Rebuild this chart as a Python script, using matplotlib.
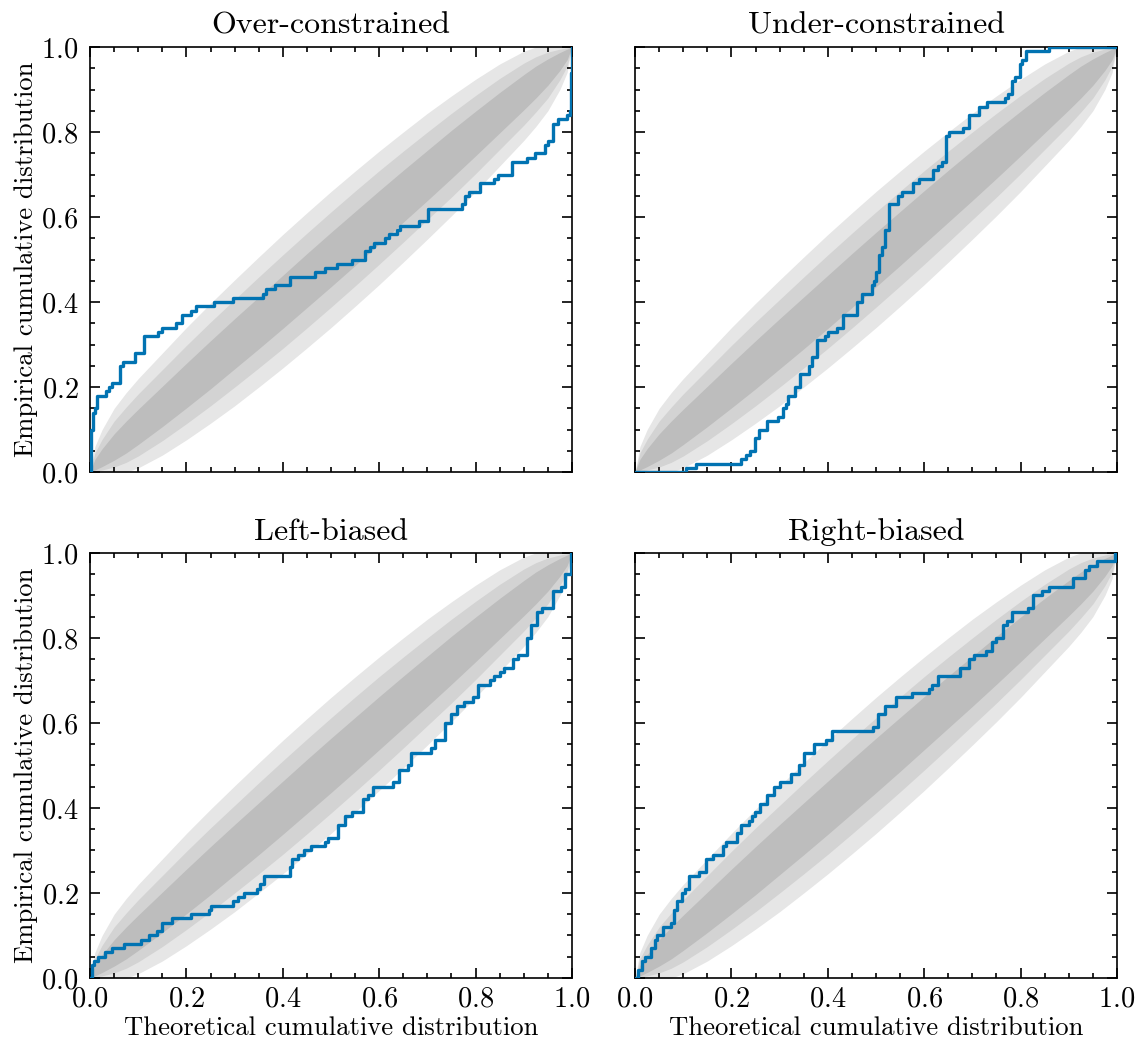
import numpy as np
import matplotlib
matplotlib.use("Agg")
import matplotlib.pyplot as plt
from matplotlib.ticker import MultipleLocator

plt.rcParams.update({
    "font.family": "serif",
    "font.serif": ["cmr10"],
    "mathtext.fontset": "cm",
    "axes.formatter.use_mathtext": True,
    "font.size": 8,
    "axes.titlesize": 9.6,
    "axes.linewidth": 0.5,
    "xtick.direction": "in",
    "ytick.direction": "in",
    "xtick.top": True,
    "ytick.right": True,
    "xtick.major.size": 3,
    "ytick.major.size": 3,
    "xtick.minor.size": 1.5,
    "ytick.minor.size": 1.5,
    "xtick.major.width": 0.5,
    "ytick.major.width": 0.5,
    "xtick.minor.width": 0.5,
    "ytick.minor.width": 0.5,
    "xtick.minor.visible": True,
    "ytick.minor.visible": True,
    "xtick.labelsize": 8.5,
    "ytick.labelsize": 8.5,
})

# envelope around the diagonal: distance of the upper edge above y = x
# (the lower edge is the mirror image through the centre point)
band_x = [0.0, 0.01, 0.025, 0.05, 0.075, 0.1, 0.15, 0.2, 0.25, 0.3, 0.35, 0.4, 0.45,
          0.5, 0.55, 0.6, 0.65, 0.7, 0.75, 0.8, 0.85, 0.9, 0.925, 0.95, 0.975, 0.99, 1.0]
band_outer = [0.0, 0.05, 0.075, 0.10, 0.112, 0.12, 0.13, 0.14, 0.147, 0.152, 0.156, 0.159, 0.16,
              0.16, 0.158, 0.155, 0.15, 0.144, 0.135, 0.124, 0.11, 0.09, 0.075, 0.05, 0.025, 0.01, 0.0]
band_mid = [0.0, 0.035, 0.052, 0.07, 0.078, 0.084, 0.091, 0.098, 0.103, 0.106, 0.109, 0.111, 0.112,
            0.112, 0.111, 0.109, 0.105, 0.1, 0.094, 0.086, 0.076, 0.062, 0.052, 0.038, 0.02, 0.008, 0.0]
band_inner = [0.0, 0.02, 0.03, 0.04, 0.045, 0.048, 0.052, 0.056, 0.059, 0.061, 0.062, 0.063, 0.064,
              0.064, 0.063, 0.062, 0.06, 0.057, 0.054, 0.049, 0.043, 0.035, 0.03, 0.022, 0.012, 0.005, 0.0]

# empirical CDFs: jump positions and level after each jump
over_x = [0.0, 0.003, 0.006, 0.010, 0.014, 0.033, 0.040, 0.045, 0.062, 0.068, 0.094, 0.112, 0.140, 0.149,
          0.178, 0.190, 0.209, 0.219, 0.258, 0.296, 0.358, 0.366, 0.384, 0.415, 0.467, 0.487, 0.513, 0.544,
          0.571, 0.581, 0.589, 0.613, 0.620, 0.638, 0.643, 0.683, 0.701, 0.771, 0.778, 0.787, 0.809, 0.839,
          0.847, 0.875, 0.906, 0.923, 0.944, 0.951, 0.961, 0.972, 0.989, 0.996, 0.998, 1.0]
over_y = [0.0, 0.10, 0.14, 0.15, 0.18, 0.19, 0.20, 0.21, 0.25, 0.26, 0.28, 0.32, 0.33, 0.34,
          0.35, 0.37, 0.38, 0.39, 0.40, 0.41, 0.42, 0.43, 0.44, 0.46, 0.47, 0.48, 0.49, 0.50,
          0.52, 0.53, 0.54, 0.55, 0.56, 0.57, 0.58, 0.59, 0.62, 0.63, 0.65, 0.66, 0.68, 0.69,
          0.70, 0.73, 0.74, 0.75, 0.77, 0.78, 0.82, 0.83, 0.84, 0.85, 0.94, 1.0]

under_x = [0.0, 0.106, 0.127, 0.219, 0.230, 0.239, 0.249, 0.258, 0.273, 0.297, 0.308, 0.313, 0.317, 0.332,
           0.342, 0.360, 0.368, 0.378, 0.394, 0.401, 0.420, 0.432, 0.461, 0.470, 0.491, 0.496, 0.501, 0.507,
           0.512, 0.519, 0.528, 0.546, 0.553, 0.577, 0.590, 0.619, 0.629, 0.636, 0.645, 0.652, 0.681, 0.692,
           0.714, 0.730, 0.768, 0.773, 0.782, 0.788, 0.799, 0.804, 0.811, 0.858, 1.0]
under_y = [0.0, 0.01, 0.02, 0.03, 0.04, 0.05, 0.08, 0.10, 0.12, 0.13, 0.15, 0.16, 0.18, 0.20,
           0.23, 0.25, 0.27, 0.31, 0.32, 0.33, 0.34, 0.37, 0.40, 0.42, 0.44, 0.45, 0.47, 0.51,
           0.53, 0.57, 0.63, 0.65, 0.66, 0.68, 0.69, 0.71, 0.72, 0.73, 0.79, 0.80, 0.81, 0.84,
           0.86, 0.87, 0.88, 0.89, 0.92, 0.93, 0.96, 0.97, 0.99, 1.0, 1.0]

left_x = [0.0, 0.0035, 0.008, 0.017, 0.031, 0.046, 0.071, 0.105, 0.123, 0.138, 0.149, 0.171, 0.210, 0.246,
          0.252, 0.297, 0.308, 0.320, 0.347, 0.353, 0.361, 0.415, 0.420, 0.432, 0.445, 0.459, 0.488, 0.494,
          0.515, 0.529, 0.544, 0.567, 0.577, 0.588, 0.629, 0.641, 0.660, 0.667, 0.707, 0.716, 0.737, 0.750,
          0.761, 0.775, 0.795, 0.806, 0.830, 0.839, 0.851, 0.859, 0.878, 0.889, 0.907, 0.916, 0.927, 0.937,
          0.961, 0.977, 0.986, 0.999, 1.0]
left_y = [0.0, 0.03, 0.04, 0.05, 0.06, 0.07, 0.08, 0.09, 0.10, 0.11, 0.13, 0.14, 0.15, 0.16,
          0.17, 0.18, 0.19, 0.20, 0.21, 0.22, 0.24, 0.26, 0.28, 0.29, 0.30, 0.31, 0.32, 0.33,
          0.36, 0.38, 0.39, 0.42, 0.43, 0.45, 0.46, 0.49, 0.50, 0.53, 0.54, 0.56, 0.60, 0.62,
          0.64, 0.65, 0.66, 0.69, 0.70, 0.71, 0.72, 0.73, 0.75, 0.76, 0.80, 0.83, 0.86, 0.87,
          0.91, 0.92, 0.95, 1.0, 1.0]

right_x = [0.0, 0.007, 0.014, 0.021, 0.0325, 0.0415, 0.046, 0.059, 0.074, 0.081, 0.088, 0.097, 0.104, 0.111,
           0.1335, 0.147, 0.161, 0.182, 0.189, 0.211, 0.219, 0.237, 0.242, 0.249, 0.259, 0.273, 0.288, 0.301,
           0.323, 0.340, 0.351, 0.371, 0.396, 0.409, 0.4945, 0.505, 0.519, 0.541, 0.574, 0.609, 0.616, 0.629,
           0.674, 0.692, 0.704, 0.728, 0.741, 0.750, 0.763, 0.771, 0.782, 0.816, 0.825, 0.844, 0.858, 0.909,
           0.934, 0.941, 0.959, 0.996, 1.0]
right_y = [0.0, 0.02, 0.04, 0.05, 0.07, 0.09, 0.10, 0.12, 0.13, 0.16, 0.18, 0.20, 0.21, 0.24,
           0.25, 0.28, 0.29, 0.31, 0.32, 0.34, 0.36, 0.37, 0.38, 0.39, 0.41, 0.43, 0.45, 0.46,
           0.48, 0.50, 0.53, 0.55, 0.56, 0.58, 0.59, 0.62, 0.64, 0.66, 0.67, 0.68, 0.69, 0.71,
           0.73, 0.75, 0.76, 0.77, 0.79, 0.80, 0.83, 0.84, 0.86, 0.87, 0.90, 0.91, 0.92, 0.94,
           0.96, 0.97, 0.98, 1.0, 1.0]

titles = ["Over-constrained", "Under-constrained", "Left-biased", "Right-biased"]
curves = [(over_x, over_y), (under_x, under_y), (left_x, left_y), (right_x, right_y)]
band_colors = ["#e6e6e6", "#d3d3d3", "#bdbdbd"]
line_color = "#0173B2"


def draw_band(ax, dev, color):
    x = np.array(band_x)
    d = np.array(dev)
    upper = np.clip(x + d, 0, 1)
    lower = np.clip(x - d[::-1], 0, 1)
    ax.fill_between(x, lower, upper, color=color, lw=0, zorder=1)


fig, axes = plt.subplots(2, 2, sharex=True, sharey=True, figsize=(1147 / 240, 1047 / 240), dpi=240)
fig.subplots_adjust(left=0.0785, right=0.9738, top=0.9551, bottom=0.0659, wspace=0.131, hspace=0.19)

for ax, title, (cx, cy) in zip(axes.flat, titles, curves):
    for dev, col in zip([band_outer, band_mid, band_inner], band_colors):
        draw_band(ax, dev, col)
    ax.step(cx, cy, where="post", color=line_color, lw=1.0, zorder=3)
    ax.set_title(title, pad=4)
    ax.set_xlim(0, 1)
    ax.set_ylim(0, 1)
    ax.xaxis.set_major_locator(MultipleLocator(0.2))
    ax.xaxis.set_minor_locator(MultipleLocator(0.05))
    ax.yaxis.set_major_locator(MultipleLocator(0.2))
    ax.yaxis.set_minor_locator(MultipleLocator(0.05))
    ax.tick_params(axis="x", which="major", pad=2.5)

for ax in axes[:, 0]:
    ax.set_ylabel("Empirical cumulative distribution", labelpad=1)
for ax in axes[1, :]:
    ax.set_xlabel("Theoretical cumulative distribution", labelpad=1)

fig.savefig("out.png", dpi=240)
